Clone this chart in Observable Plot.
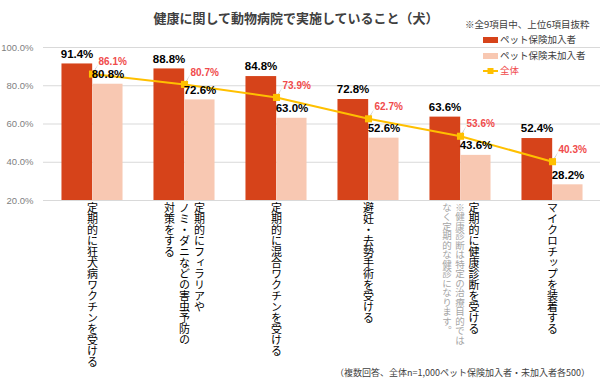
<!DOCTYPE html>
<html><head><meta charset="utf-8">
<script src="https://cdn.jsdelivr.net/npm/d3@7"></script>
<script src="https://cdn.jsdelivr.net/npm/@observablehq/plot@0.6"></script>
<style>
html,body{margin:0;padding:0;background:#fff;}
#wrap{position:relative;width:600px;height:379px;font-family:"Noto Sans CJK JP",sans-serif;color:#404040;overflow:hidden;}
#wrap svg{position:absolute;left:0;top:0;}
.abs{position:absolute;white-space:nowrap;line-height:1;}
#title{left:0;top:11px;width:592px;text-align:center;font-size:13px;font-weight:bold;color:#404040;}
#note{left:465px;top:20px;font-size:9.5px;color:#404040;}
.leg{left:483px;display:flex;align-items:center;height:12px;font-size:9.5px;}
.sw{width:15px;height:6px;margin-right:2px;}
#foot{right:10px;top:368px;font-size:9px;color:#404040;}
g[aria-description="vlabel"] text{writing-mode:vertical-rl;}
</style></head>
<body>
<div id="wrap">
  <div id="chart"></div>
  <div class="abs" id="title"></div>
  <div class="abs" id="note"></div>
  <div class="abs leg" style="top:34px"><div class="sw" style="background:#D6431A"></div><span id="l1"></span></div>
  <div class="abs leg" style="top:49.5px"><div class="sw" style="background:#F8C8B2"></div><span id="l2"></span></div>
  <div class="abs leg" style="top:65px"><svg width="15" height="8" style="position:static;margin-right:2px"><line x1="0" y1="4" x2="15" y2="4" stroke="#FFC000" stroke-width="2"/><rect x="4.5" y="1" width="6" height="6" fill="#FFC000"/></svg><span id="l3" style="color:#F04B4B"></span></div>
  <div class="abs" id="foot"></div>
</div>
<script>
const titleText = "健康に関して動物病院で実施していること（犬）";
const noteText = "※全9項目中、上位6項目抜粋";
const seriesNames = ["ペット保険加入者", "ペット保険未加入者", "全体"];
const footText = "（複数回答、全体n=1,000ペット保険加入者・未加入者各500）";

const categories = [
  "定期的に狂犬病ワクチンを受ける",
  "定期的にフィラリアやノミ・ダニなどの害虫予防の対策をする",
  "定期的に混合ワクチンを受ける",
  "避妊・去勢手術を受ける",
  "定期的に健康診断を受ける",
  "マイクロチップを装着する"
];
const categoryLines = [
  ["定期的に狂犬病ワクチンを受ける"],
  ["定期的にフィラリアや", "ノミ・ダニなどの害虫予防の", "対策をする"],
  ["定期的に混合ワクチンを受ける"],
  ["避妊・去勢手術を受ける"],
  ["定期的に健康診断を受ける"],
  ["マイクロチップを装着する"]
];
const categoryNotes = [[], [], [], [], ["※健康診断は特定の治療目的では", "なく定期的な健診になります。"], []];

const insured   = [91.4, 88.8, 84.8, 72.8, 63.6, 52.4];
const uninsured = [80.8, 72.6, 63.0, 52.6, 43.6, 28.2];
const overall   = [86.1, 80.7, 73.9, 62.7, 53.6, 40.3];
const yTicks = [20, 40, 60, 80, 100];

document.getElementById("title").textContent = titleText;
document.getElementById("note").textContent = noteText;
document.getElementById("l1").textContent = seriesNames[0];
document.getElementById("l2").textContent = seriesNames[1];
document.getElementById("l3").textContent = seriesNames[2];
document.getElementById("foot").textContent = footText;

const W = 600, H = 379, ML = 43, MR = 0, MT = 47, MB = 179;
const bw = (W - ML - MR) / categories.length;
const fmt = d => d.toFixed(1) + "%";

const rows = categories.map((c, i) => ({cat: c, ins: insured[i], unins: uninsured[i], all: overall[i]}));

// vertical label columns (right to left), centred on the band
const MAIN_FS = 11, NOTE_FS = 9.5, LH = 1.36;
const cols = [];
categories.forEach((c, i) => {
  const items = categoryLines[i].map(t => ({text: t, fs: MAIN_FS, fill: "#000"}))
    .concat(categoryNotes[i].map(t => ({text: t, fs: NOTE_FS, fill: "#a6a6a6"})));
  let pos = 0; const ps = [0];
  for (let k = 1; k < items.length; k++) { pos -= (items[k-1].fs + items[k].fs) / 2 * LH; ps.push(pos); }
  items.forEach((it, k) => cols.push({cat: c, text: it.text, fs: it.fs, fill: it.fill, off: ps[k] - pos / 2}));
});

const chart = Plot.plot({
  width: W, height: H,
  marginLeft: ML, marginRight: MR, marginTop: MT, marginBottom: MB,
  style: {fontFamily: "'Noto Sans CJK JP', sans-serif", background: "transparent"},
  x: {domain: categories, padding: 0, axis: null},
  y: {domain: [20, 100], axis: null},
  marks: [
    Plot.gridY(yTicks, {stroke: "#d9d9d9", strokeOpacity: 1}),
    Plot.axisY(yTicks, {tickFormat: fmt, tickSize: 0, tickPadding: 10, fontSize: 9.5, color: "#7f7f7f", fontFamily: "'Liberation Sans', Arial, sans-serif", label: null}),
    Plot.barY(rows, {x: "cat", y1: 20, y2: "ins", fill: "#D6431A", insetLeft: bw / 6, insetRight: bw / 2 - 0.6}),
    Plot.barY(rows, {x: "cat", y1: 20, y2: "unins", fill: "#F8C8B2", insetLeft: bw / 2, insetRight: bw / 6}),
    Plot.ruleY([20], {stroke: "#d9d9d9"}),
    Plot.text(rows, {x: "cat", y: "ins", text: d => fmt(d.ins), dx: -bw / 6, dy: -10, fontSize: 11.5, fontWeight: "bold", fill: "#000", fontFamily: "'Liberation Sans', Arial, sans-serif"}),
    Plot.vector(rows, {x: "cat", y: "all", length: 12, rotate: 30, anchor: "start", shape: "spike", r: 0.5, fill: "#b0b0b0", stroke: "none"}),
    Plot.line(rows, {x: "cat", y: "all", stroke: "#FFC000", strokeWidth: 2}),
    Plot.dot(rows, {x: "cat", y: "all", symbol: "square", r: 4, fill: "#FFC000"}),
    Plot.text(rows, {x: "cat", y: "unins", text: d => fmt(d.unins), dx: bw / 6, dy: -10, fontSize: 11.5, fontWeight: "bold", fill: "#000", fontFamily: "'Liberation Sans', Arial, sans-serif"}),
    Plot.text(rows, {x: "cat", y: "all", text: d => fmt(d.all), dx: 6, dy: -12, textAnchor: "start", fontSize: 10, fontWeight: "bold", fill: "#F04B4B", fontFamily: "'Liberation Sans', Arial, sans-serif"}),
    ...cols.map(r => Plot.text([r], {x: "cat", frameAnchor: "bottom", text: "text", dx: r.off, dy: 2, textAnchor: "start", fontSize: r.fs, fill: r.fill, ariaDescription: "vlabel"}))
  ]
});
document.getElementById("chart").appendChild(chart);
</script>
</body></html>
